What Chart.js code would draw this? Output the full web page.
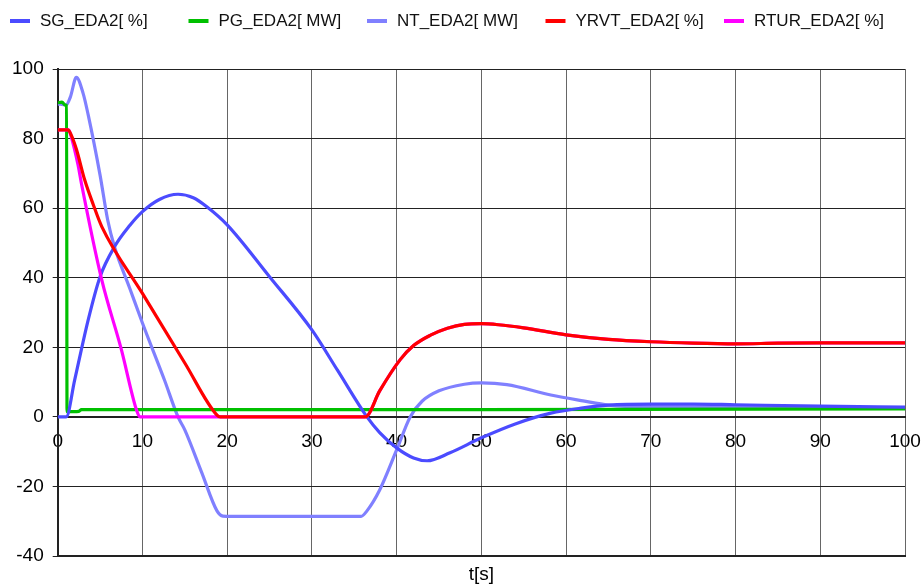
<!DOCTYPE html>
<html>
<head>
<meta charset="utf-8">
<script src="https://cdn.jsdelivr.net/npm/chart.js@4/dist/chart.umd.min.js"></script>
<style>
  html, body { margin: 0; padding: 0; background: #ffffff; }
  #wrap { width: 921px; height: 585px; position: relative; }
</style>
</head>
<body>
<div id="wrap"><canvas id="c" width="921" height="585"></canvas></div>
<script>
// ---- Data ----
const seriesLabels = ['SG_EDA2[ %]', 'PG_EDA2[ MW]', 'NT_EDA2[ MW]', 'YRVT_EDA2[ %]', 'RTUR_EDA2[ %]'];
const seriesColors = ['#4b4bff', '#00c000', '#8080ff', '#ff0000', '#ff00ff'];

const xTicks = [0, 10, 20, 30, 40, 50, 60, 70, 80, 90, 100];
const yTicks = [-40, -20, 0, 20, 40, 60, 80, 100];
const xTitle = 't[s]';

const sgTime  = [0, 1.0, 2.0, 3.6, 5.0, 6.7, 8.5, 10, 12, 14.2, 16, 17.6, 20, 25, 30, 33, 36.5, 38, 40, 42, 43.6, 46.3, 50, 54, 58.2, 62, 65, 70, 75, 80, 90, 100];
const sgValue = [0, 0, 10.6, 27.9, 40.3, 48.9, 55, 59, 62.5, 64, 63, 60.4, 55.2, 40.3, 25, 13.5, 0, -4.5, -8.9, -11.8, -12.6, -10.3, -6, -2, 1.1, 2.6, 3.4, 3.7, 3.7, 3.5, 3.1, 2.8];

const pgTime  = [0, 0.5, 0.9, 1.05, 1.1, 2.5, 2.8, 50, 100];
const pgValue = [90.3, 90.5, 89.6, 89.5, 1.5, 1.6, 2.1, 2.1, 2.3];

const ntTime  = [0, 1.0, 1.5, 2.2, 3.0, 3.6, 5.0, 5.9, 6.7, 8.5, 10, 12.6, 14.2, 15, 17, 18.8, 19.5, 20.5, 35.8, 36.5, 38, 40, 41.6, 43, 45, 48, 50, 53, 58.2, 62, 65, 70, 80, 90, 100];
const ntValue = [90, 89.7, 92, 97.6, 93, 86.8, 69.5, 56.6, 48.9, 37, 27, 10.6, 0, -3.7, -16, -27, -28.5, -28.6, -28.6, -27, -21, -9.5, 0, 4.5, 7.5, 9.4, 9.8, 9.3, 6.3, 4.6, 3.4, 2.9, 2.8, 2.7, 2.6];

const yrvtTime  = [0, 1.2, 1.6, 2.2, 3.2, 4.2, 5.2, 10, 15, 18.8, 19.2, 36.3, 38, 40.4, 42, 44, 46, 48, 50, 52, 55, 60, 65, 70, 75, 80, 85, 90, 100];
const yrvtValue = [82.5, 82.5, 81, 77, 68, 61, 54.7, 35.5, 15.5, 0.5, 0, 0, 7.5, 16.4, 20.5, 23.5, 25.5, 26.6, 26.8, 26.5, 25.6, 23.6, 22.3, 21.6, 21.2, 21, 21.2, 21.3, 21.3];

const rturTime  = [0, 1.3, 1.6, 2.4, 2.8, 5.2, 7.5, 9.3, 9.7, 36.3, 38, 40.4, 42, 44, 46, 48, 50, 52, 55, 60, 65, 70, 75, 80, 85, 90, 100];
const rturValue = [82.5, 82.5, 80.5, 72.4, 67.1, 39.4, 19.5, 2, 0, 0, 7.5, 16.4, 20.5, 23.5, 25.5, 26.6, 26.8, 26.5, 25.6, 23.6, 22.3, 21.6, 21.2, 21, 21.2, 21.3, 21.3];

// ---- Build datasets ----
function pts(t, v) { return t.map((x, i) => ({ x: x, y: v[i] })); }
const allTimes  = [sgTime, pgTime, ntTime, yrvtTime, rturTime];
const allValues = [sgValue, pgValue, ntValue, yrvtValue, rturValue];
const drawOrder = [2, 3, 4, 0, 1]; // lower = drawn on top

const FONT = 'Arial, "Liberation Sans", sans-serif';

const datasets = seriesLabels.map((lab, i) => ({
  label: lab,
  data: pts(allTimes[i], allValues[i]),
  borderColor: seriesColors[i],
  backgroundColor: seriesColors[i],
  borderWidth: 3.2,
  pointRadius: 0,
  fill: false,
  cubicInterpolationMode: 'monotone',
  order: drawOrder[i]
}));

const legendPlugin = {
  id: 'fixedLegend',
  afterDraw(chart) {
    const ctx = chart.ctx;
    ctx.save();
    ctx.font = '17px ' + FONT;
    ctx.textBaseline = 'middle';
    ctx.textAlign = 'left';
    seriesLabels.forEach((lab, i) => {
      const x = 10 + 178.5 * i;
      ctx.fillStyle = seriesColors[i];
      ctx.fillRect(x, 19, 20, 4);
      ctx.fillStyle = '#111';
      ctx.fillText(lab, x + 30, 21.5);
    });
    ctx.restore();
  }
};

new Chart(document.getElementById('c'), {
  type: 'line',
  data: { datasets: datasets },
  options: {
    responsive: false,
    animation: false,
    events: [],
    layout: { padding: { left: 3, right: 0, top: 69, bottom: 0 } },
    plugins: {
      legend: { display: false },
      tooltip: { enabled: false }
    },
    scales: {
      x: {
        type: 'linear',
        position: { y: 0 },
        min: 0, max: 100,
        afterBuildTicks: (s) => { s.ticks = xTicks.map(v => ({ value: v })); },
        afterFit: (s) => { s.paddingRight = 16; s.paddingLeft = 0; },
        ticks: {
          autoSkip: false, maxRotation: 0,
          font: { family: FONT, size: 19 },
          color: '#000',
          padding: 13
        },
        grid: { color: '#666', lineWidth: 1, drawTicks: false },
        border: { display: true, color: '#222', width: 2 }
      },
      x2: {
        type: 'linear',
        position: 'bottom',
        min: 0, max: 100,
        ticks: { display: false },
        grid: { display: false, drawTicks: false },
        border: { display: true, color: '#222', width: 2 },
        title: {
          display: true, text: xTitle, color: '#000',
          font: { family: FONT, size: 19, lineHeight: 1.1 },
          padding: { top: 8, bottom: 0 }
        }
      },
      y: {
        type: 'linear',
        position: 'left',
        min: -40, max: 100,
        afterBuildTicks: (s) => { s.ticks = yTicks.map(v => ({ value: v })); },
        ticks: {
          font: { family: FONT, size: 19 },
          color: '#000',
          padding: 9
        },
        grid: { color: '#222', lineWidth: 1, tickLength: 5 },
        border: { display: true, color: '#222', width: 2 }
      }
    }
  },
  plugins: [legendPlugin]
});
</script>
</body>
</html>
